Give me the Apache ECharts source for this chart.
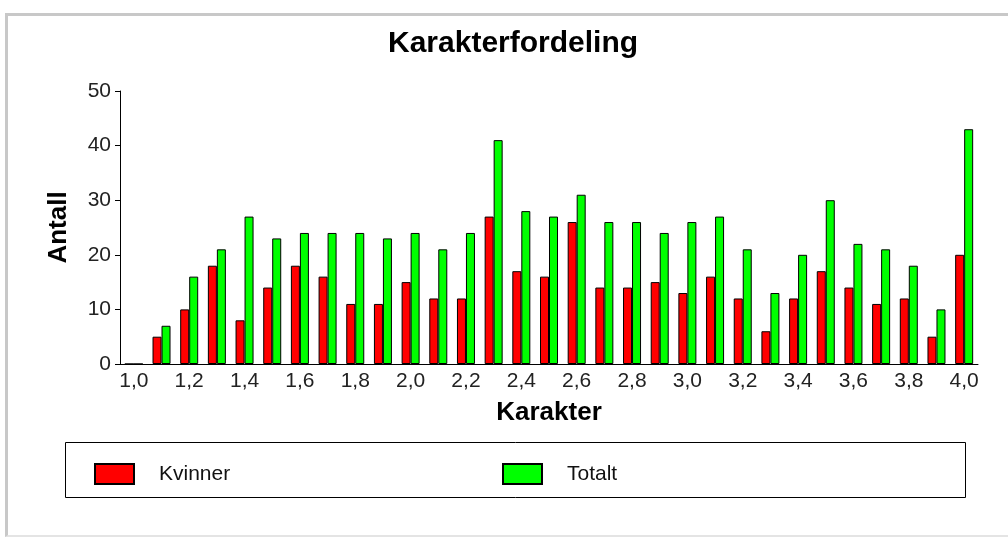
<!DOCTYPE html>
<html>
<head>
<meta charset="utf-8">
<script src="https://cdn.jsdelivr.net/npm/echarts@6/dist/echarts.min.js"></script>
<style>
html,body{margin:0;padding:0;background:#fff;}
#frame{position:absolute;left:5px;top:13px;width:1010px;height:524px;border-top:3px solid #c8c8c8;border-left:3px solid #c8c8c8;border-bottom:2px solid #e4e4e4;box-sizing:border-box;}
#main{position:absolute;left:0;top:0;width:1008px;height:539px;}
</style>
</head>
<body>
<div id="frame"></div>
<div id="main"></div>
<script>
var categories = ['1,0','1,1','1,2','1,3','1,4','1,5','1,6','1,7','1,8','1,9','2,0','2,1','2,2','2,3','2,4','2,5','2,6','2,7','2,8','2,9','3,0','3,1','3,2','3,3','3,4','3,5','3,6','3,7','3,8','3,9','4,0'];
var kvinner = [0,5,10,18,8,14,18,16,11,11,15,12,12,27,17,16,26,14,14,15,13,16,12,6,12,17,14,11,12,5,20];
var totalt  = [0,7,16,21,27,23,24,24,24,23,24,21,24,41,28,27,31,26,26,24,26,27,21,13,20,30,22,21,18,10,43];
var yTicks = [0,10,20,30,40,50];

var chart = echarts.init(document.getElementById('main'));
var font = 'Liberation Sans, Arial, sans-serif';
chart.setOption({
  animation:false,
  backgroundColor:'transparent',
  title:{text:'Karakterfordeling',left:388,top:29,padding:0,textStyle:{fontFamily:font,fontSize:30,fontWeight:'bold',color:'#000'}},
  grid:{left:120,top:91,width:858,height:273},
  legend:[
    {data:['Kvinner'],left:94,top:463,padding:0,itemWidth:39,itemHeight:20,icon:'rect',
     textStyle:{fontFamily:font,fontSize:21,color:'#111',padding:[0,0,0,20]}},
    {data:['Totalt'],left:502,top:463,padding:0,itemWidth:39,itemHeight:20,icon:'rect',
     textStyle:{fontFamily:font,fontSize:21,color:'#111',padding:[0,0,0,20]}}
  ],
  graphic:[{type:'rect',shape:{x:65.5,y:442.5,width:900,height:55},style:{fill:'none',stroke:'#000',lineWidth:1},silent:true,z:-1}],
  xAxis:{type:'category',data:categories,boundaryGap:true,
    name:'Karakter',nameLocation:'middle',nameGap:36,
    nameTextStyle:{fontFamily:font,fontSize:26,fontWeight:'bold',color:'#000'},
    axisLine:{lineStyle:{color:'#000',width:1}},
    axisTick:{alignWithLabel:true,interval:1,length:5,lineStyle:{color:'#000'}},
    axisLabel:{interval:1,fontFamily:font,fontSize:21,color:'#222',margin:7}
  },
  yAxis:{type:'value',min:0,max:50,interval:10,
    name:'Antall',nameLocation:'middle',nameGap:48,nameRotate:90,
    nameTextStyle:{fontFamily:font,fontSize:26,fontWeight:'bold',color:'#000'},
    axisLine:{show:true,lineStyle:{color:'#000',width:1}},
    axisTick:{show:true,length:5,lineStyle:{color:'#000'}},
    splitLine:{show:false},
    axisLabel:{fontFamily:font,fontSize:21,color:'#222',margin:9,
      formatter:function(v){return yTicks.indexOf(v)>=0?String(v):'';}}
  },
  series:[
    {name:'Kvinner',type:'bar',data:kvinner,barWidth:9,barGap:'0%',
     itemStyle:{color:'#ff0000',borderColor:'#000',borderWidth:1}},
    {name:'Totalt',type:'bar',data:totalt,barWidth:9,barGap:'0%',
     itemStyle:{color:'#00ff00',borderColor:'#000',borderWidth:1}}
  ]
});
</script>
</body>
</html>
